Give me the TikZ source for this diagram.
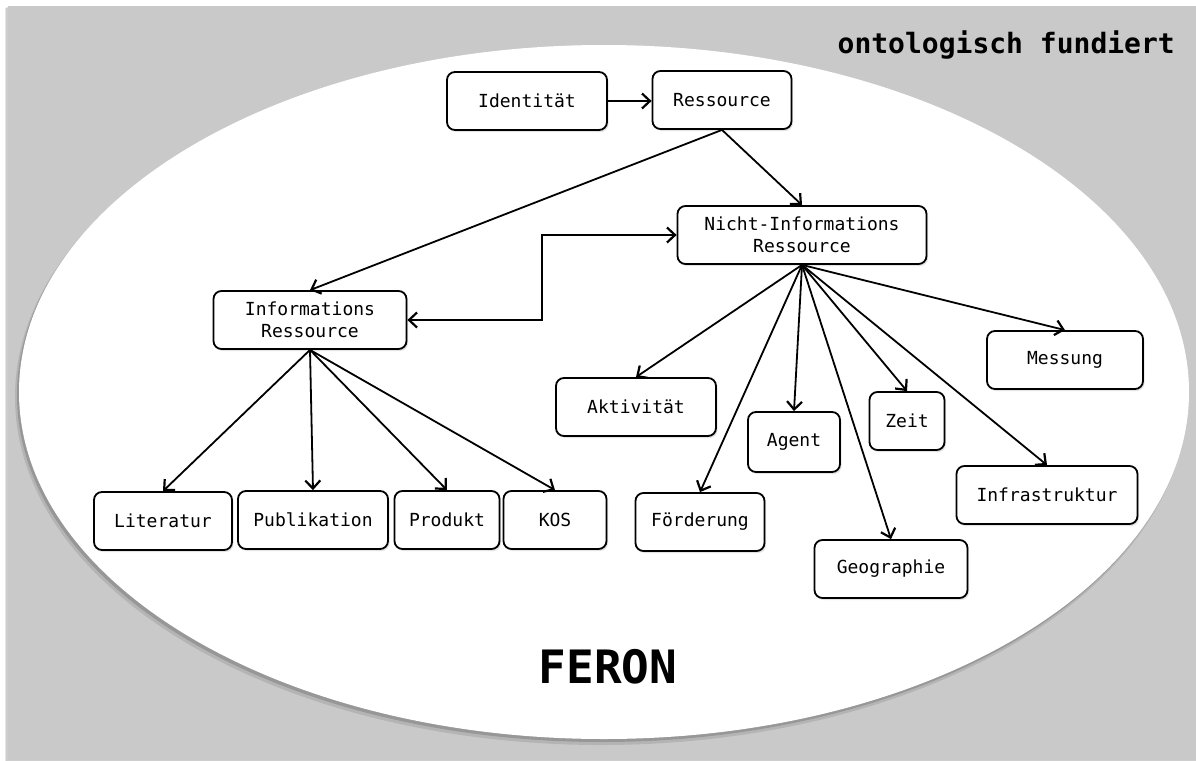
\documentclass[tikz,border=0pt]{standalone}
\usepackage{fontspec}
\setmonofont{DejaVu Sans Mono}
\usetikzlibrary{arrows.meta,shadows,calc}
\definecolor{panelgray}{RGB}{201,201,201}
\begin{document}
\begin{tikzpicture}[x=1pt,y=-1pt,
  box/.style={draw=black, line width=1.8pt, rounded corners=8pt, fill=white,
    minimum height=58pt, inner sep=0pt, align=center,
    font=\ttfamily\fontsize{18}{22}\selectfont,
    drop shadow={shadow xshift=1.5pt, shadow yshift=-2pt, opacity=0.22}},
  tip/.tip={Straight Barb[length=8pt,width=15pt,line width=2.2pt]},
  conn/.style={line width=1.8pt, -tip},
  both/.style={line width=1.8pt, tip-tip},
]
\useasboundingbox (0,0) rectangle (1196,760);

% grey panel with a soft edge on the left
\fill[black, opacity=0.10] (5,8) rectangle (1196,762);
\fill[black, opacity=0.10] (6,7) rectangle (1196,761);
\fill[panelgray] (8,6) rectangle (1196,760);

% white ellipse with its shadow
\fill[black, opacity=0.10] (601,397) ellipse [x radius=586pt, y radius=348pt];
\fill[black, opacity=0.16] (602,395) ellipse [x radius=585pt, y radius=347pt];
\fill[white] (604,392) ellipse [x radius=585pt, y radius=347pt];

% top levels
\node[box, minimum width=160pt] (ident) at (527,101) {Identität};
\node[box, minimum width=139pt] (res) at (722,100) {Ressource};
\node[box, minimum width=249pt] (nir) at (802,235) {Nicht-Informations\\Ressource};
\node[box, minimum width=193pt] (ir) at (310,320) {Informations\\Ressource};

% children of the non-information resource
\node[box, minimum width=160pt] (akt) at (636,407) {Aktivität};
\node[box, minimum width=92pt, minimum height=60pt] (agent) at (794,442) {Agent};
\node[box, minimum width=75pt] (zeit) at (907,421) {Zeit};
\node[box, minimum width=156pt] (mess) at (1065,360) {Messung};
\node[box, minimum width=181pt] (infra) at (1047,495) {Infrastruktur};
\node[box, minimum width=129pt] (foerd) at (700,522) {Förderung};
\node[box, minimum width=153pt] (geo) at (891,569) {Geographie};

% children of the information resource
\node[box, minimum width=138pt] (lit) at (163,521) {Literatur};
\node[box, minimum width=150pt] (pub) at (313,520) {Publikation};
\node[box, minimum width=105pt] (prod) at (447,520) {Produkt};
\node[box, minimum width=103pt] (kos) at (555,520) {KOS};

% connectors
\draw[conn] (ident.east) -- (ident.east -| res.west);
\draw[conn] (res.south) -- (ir.north);
\draw[conn] (res.south) -- (nir.north);
\draw[both] (ir.east) -| ($(ir.east)!.5!(nir.west)$) |- (nir.west);
\foreach \c in {lit,pub,prod,kos}
  \draw[conn] (ir.south) -- (\c.north);
\foreach \c in {akt,agent,zeit,mess,infra,foerd,geo}
  \draw[conn] (nir.south) -- (\c.north);

% labels
\node[font=\ttfamily\bfseries\fontsize{28}{30}\selectfont, anchor=base east, inner sep=0pt] (tag) at (1175,53) {ontologisch fundiert};
\node[font=\ttfamily\bfseries\fontsize{46}{50}\selectfont, anchor=base, inner sep=0pt] (name) at (608,683) {FERON};
\end{tikzpicture}
\end{document}
